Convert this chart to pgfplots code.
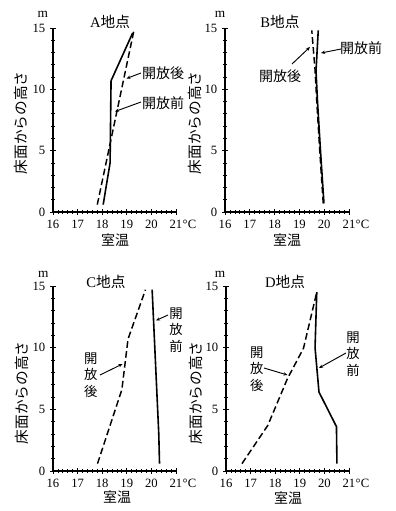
\documentclass[border=0pt]{standalone}
\usepackage{fontspec}
\setmainfont{Liberation Serif}
\newfontfamily\jp{Noto Sans CJK JP}
\usepackage{pgfplots}
\pgfplotsset{compat=1.18}
\usetikzlibrary{arrows.meta}

\pgfplotsset{
  panel/.style={
    scale only axis, anchor=south west,
    xmin=16, xmax=21, ymin=0, ymax=15,
    axis lines=left, axis line style={-, line width=1pt},
    xtick={16,17,18,19,20,21}, ytick={0,5,10,15},
    xticklabels={16,17,18,19,20,{21\rlap{\kern0.3pt°C}}},
    minor y tick num=4, minor x tick num=4,
    tick align=center, major tick length=4.5pt, minor tick length=2.5pt,
    every tick/.style={black, line width=0.6pt},
    tick label style={font=\fontsize{9.5}{10}\selectfont},
    /pgf/number format/assume math mode=true,
    clip=false,
  },
  before/.style={black, line width=1.2pt},
  after/.style={black, line width=1.1pt, dash pattern=on 5pt off 2.5pt},
}

\begin{document}
\begin{tikzpicture}
\useasboundingbox (0,0) rectangle (297pt,383.25pt);

% A
\begin{axis}[panel, at={(39.75pt,224.25pt)}, width=92.25pt, height=138pt]
\addplot[before] coordinates {(18.04,0.6) (18.32,4.0) (18.36,10.7) (19.24,14.6)};
\addplot[after] coordinates {(17.80,0.6) (19.28,14.7)};
\end{axis}

% B
\begin{axis}[panel, at={(168.75pt,224.25pt)}, width=93pt, height=138pt]
\addplot[before] coordinates {(19.99,0.7) (19.85,5) (19.73,9) (19.67,11.5) (19.76,14.8)};
\addplot[after] coordinates {(19.96,0.7) (19.82,5) (19.70,9) (19.63,11.6) (19.50,14.8)};
\end{axis}

% C
\begin{axis}[panel, at={(39.75pt,30pt)}, width=92.25pt, height=138.75pt]
\addplot[after] coordinates {(17.81,0.6) (18.80,6.6) (19.05,10.7) (19.76,14.7)};
\addplot[before] coordinates {(20.03,14.7) (20.30,3.0) (20.33,0.6)};
\end{axis}

% D
\begin{axis}[panel, at={(169.5pt,30pt)}, width=92.25pt, height=138.75pt]
\addplot[after] coordinates {(16.65,0.6) (17.70,3.7) (18.5,7.5) (19.15,9.95) (19.69,14.5)};
\addplot[before] coordinates {(19.69,14.5) (19.62,10) (19.78,6.4) (20.49,3.6) (20.51,0.6)};
\end{axis}

\begin{scope}[x=0.75pt,y=-0.75pt,shift={(0pt,383.25pt)},
  jl/.style={font=\jp\fontsize{10.5}{12}\selectfont, inner sep=0pt},
  jv/.style={font=\jp\fontsize{10}{12.5}\selectfont, inner sep=0pt, align=center},
  ptr/.style={line width=0.7pt, -{Stealth[length=3pt,width=2.5pt]}},
  tl/.style={font=\fontsize{11}{12}\selectfont, inner sep=0pt}]
% titles
\node[tl] at (110,22) {A{\jp 地点}};
\node[tl] at (280,22) {B{\jp 地点}};
\node[tl] at (106,282) {C{\jp 地点}};
\node[tl] at (285,282) {D{\jp 地点}};
% m labels
\foreach \p in {(42.7,14),(220,14),(43.3,274),(220,274)}
  \node[font=\fontsize{10}{10}\selectfont, inner sep=0pt] at \p {m};
% x labels
\foreach \p in {(115,240),(287,240),(117,497),(288,498)}
  \node[jl] at \p {室温};
% y labels
\foreach \p in {(21,123),(195,123),(21.5,393),(196,393)}
  \node[jl, font=\jp\fontsize{11}{12}\selectfont, rotate=90] at \p {床面からの高さ};
% A pointers
\node[jl] at (163,73) {開放後};
\draw[ptr] (141,73) -- (126.5,78.5);
\node[jl] at (163,103) {開放前};
\draw[ptr] (141,102) -- (115,111.5);
% B pointers
\node[jl] at (361,48) {開放前};
\draw[ptr] (341,49) -- (321,53);
\node[jl] at (280,76) {開放後};
\draw[ptr] (292,64) -- (310,47);
% C pointers
\node[jv] at (90.7,375) {開\\放\\後};
\draw[ptr] (100,375) -- (122.5,364);
\node[jv] at (176,330) {開\\放\\前};
\draw[ptr] (168,315) -- (156,320.5);
% D pointers
\node[jv] at (256.7,369) {開\\放\\後};
\draw[ptr] (264,368) -- (287.5,375);
\node[jv] at (353,354) {開\\放\\前};
\draw[ptr] (346,353) -- (319,368);
\end{scope}
\end{tikzpicture}
\end{document}
